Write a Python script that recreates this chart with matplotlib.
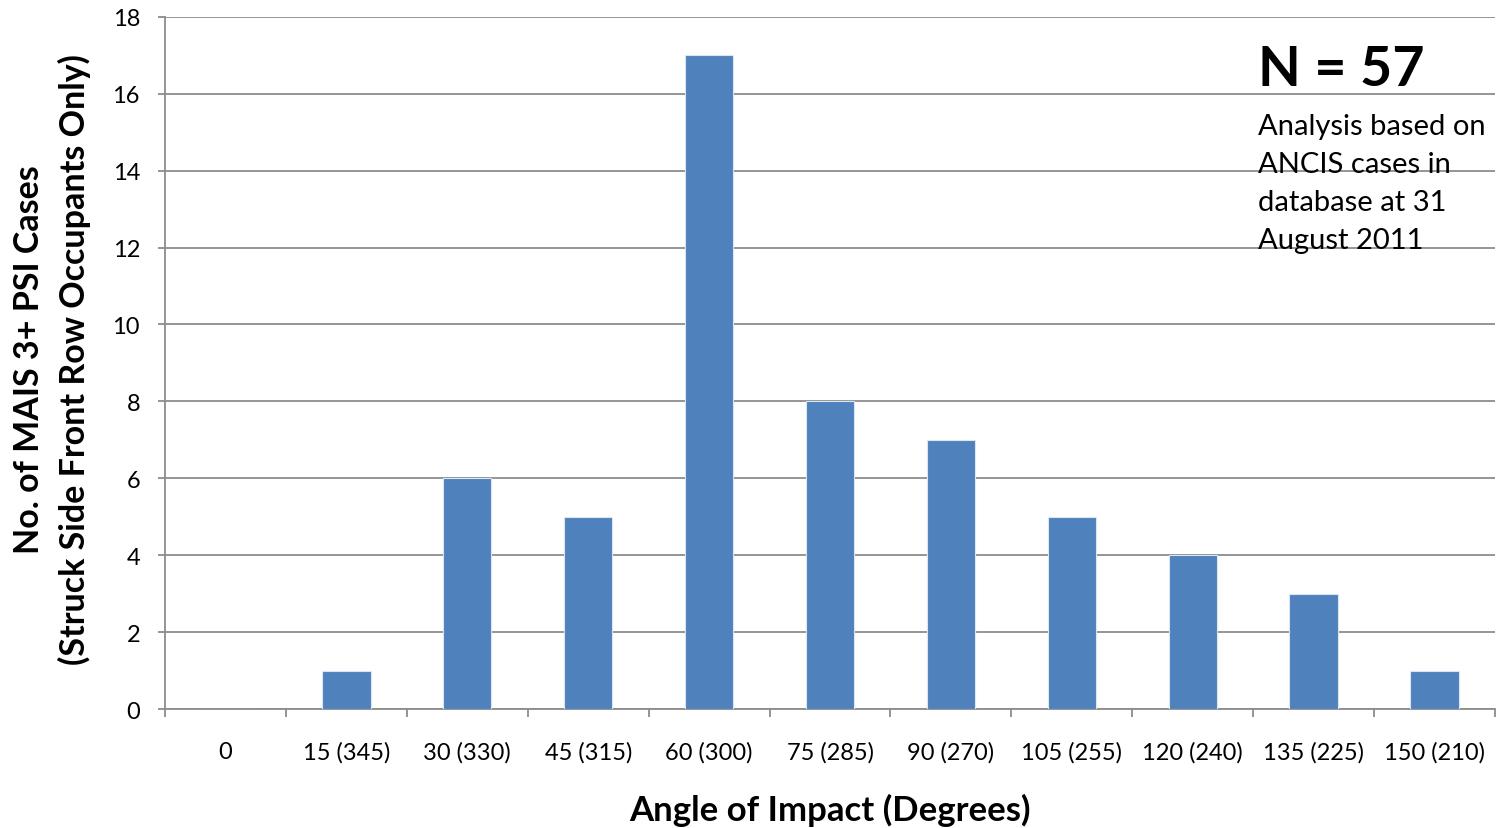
import matplotlib
matplotlib.use("Agg")
import matplotlib.pyplot as plt
import numpy as np

categories = ["0", "15 (345)", "30 (330)", "45 (315)", "60 (300)", "75 (285)",
              "90 (270)", "105 (255)", "120 (240)", "135 (225)", "150 (210)"]
counts = [0, 1, 6, 5, 17, 8, 7, 5, 4, 3, 1]
y_ticks = [0, 2, 4, 6, 8, 10, 12, 14, 16, 18]

plt.rcParams['font.family'] = ['Lato', 'DejaVu Sans']

fig = plt.figure(figsize=(15, 8.29), dpi=100)
ax = fig.add_axes([0.11, 0.1435, 0.8867, 0.835])

x = np.arange(len(categories))
ax.bar(x, counts, width=0.4, color="#4F81BD", edgecolor="#DCE6F2", linewidth=0.8, zorder=3)

ax.set_xlim(-0.5, len(categories) - 0.5)
ax.set_ylim(0, 18)
ax.set_yticks(y_ticks)
ax.yaxis.grid(True, color="#8C8C8C", linewidth=1.3, zorder=0)

ax.set_xticks(x)
ax.set_xticklabels(categories, fontsize=17)
ax.set_xticks(np.arange(len(categories) + 1) - 0.5, minor=True)
ax.tick_params(axis='x', which='major', length=0, pad=23)
ax.tick_params(axis='x', which='minor', length=6, width=1.3, color="#8C8C8C", direction='out')
ax.tick_params(axis='y', length=5, width=1.3, color="#8C8C8C", labelsize=17, pad=13)

for s in ['top', 'right']:
    ax.spines[s].set_visible(False)
for s in ['left', 'bottom']:
    ax.spines[s].set_color("#8C8C8C")
    ax.spines[s].set_linewidth(1.3)

fig.text(830 / 1500, 1 - 810 / 829, "Angle of Impact (Degrees)", fontsize=25,
         fontweight='bold', ha='center', va='center')
fig.text(52 / 1500, 1 - 360 / 829,
         "No. of MAIS 3+ PSI Cases\n(Struck Side Front Row Occupants Only)",
         fontsize=24.5, fontweight='bold', rotation=90, ha='center', va='center',
         multialignment='center', linespacing=1.5)

fig.text(1258 / 1500, 1 - 70 / 829, "N = 57", fontsize=40, fontweight='bold',
         ha='left', va='center')
note_lines = ["Analysis based on", "ANCIS cases in", "database at 31", "August 2011"]
for i, line in enumerate(note_lines):
    fig.text(1258 / 1500, 1 - (127 + 38 * i) / 829, line, fontsize=21,
             ha='left', va='center')

fig.savefig("out.png", dpi=100)
